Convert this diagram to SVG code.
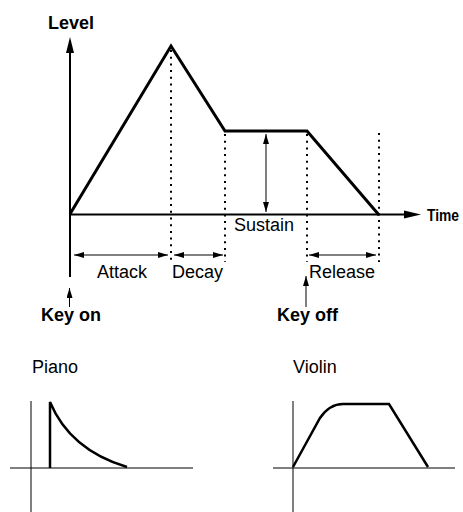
<svg xmlns="http://www.w3.org/2000/svg" width="463" height="512" viewBox="0 0 463 512">
<style>
.env{fill:none;stroke:#000;stroke-width:3;stroke-linejoin:miter}
.ax{fill:none;stroke:#000;stroke-width:2}
.thin{fill:none;stroke:#000;stroke-width:1}
.dot{fill:none;stroke:#000;stroke-width:2;stroke-dasharray:2,4.7}
.lab{font-family:"Liberation Sans",Arial,sans-serif;font-size:18px;fill:#000}
.bold{font-family:"Liberation Sans",Arial,sans-serif;font-size:18px;font-weight:bold;fill:#000}
.narrow{font-family:"Liberation Sans Narrow","Liberation Sans",Arial,sans-serif;font-size:16px;font-weight:bold;fill:#000}
</style>
<defs>
<marker id="ah" viewBox="0 0 10 6" refX="10" refY="3" markerWidth="10" markerHeight="6" markerUnits="userSpaceOnUse" orient="auto-start-reverse">
<path d="M0,0 L10,3 L0,6 Z" fill="#000"/>
</marker>
</defs>
<rect width="463" height="512" fill="#fff"/>
<g id="connectors">
<line class="ax" x1="70" y1="52" x2="70" y2="277"/>
<path d="M70,37 L74,53 L66,53 Z" fill="#000"/>
<line class="ax" x1="70" y1="214.5" x2="405" y2="214.5"/>
<path d="M421,214.5 L404,210.5 L404,218.5 Z" fill="#000"/>
<line class="dot" x1="171" y1="50" x2="171" y2="262"/>
<line class="dot" x1="225" y1="134" x2="225" y2="262"/>
<line class="dot" x1="307" y1="134" x2="307" y2="262"/>
<line class="dot" x1="379" y1="133" x2="379" y2="262"/>
<line class="thin" x1="74" y1="255" x2="168" y2="255" marker-start="url(#ah)" marker-end="url(#ah)"/>
<line class="thin" x1="174" y1="255" x2="223" y2="255" marker-start="url(#ah)" marker-end="url(#ah)"/>
<line class="thin" x1="309" y1="255" x2="376" y2="255" marker-start="url(#ah)" marker-end="url(#ah)"/>
<line class="thin" x1="266" y1="134" x2="266" y2="212" marker-start="url(#ah)" marker-end="url(#ah)"/>
<line class="thin" x1="69.5" y1="307" x2="69.5" y2="288" marker-end="url(#ah)"/>
<line class="thin" x1="306" y1="307" x2="306" y2="276" marker-end="url(#ah)"/>
</g>
<g id="envelope">
<polyline class="env" points="70,214 171,46 225,131 307,131 379,215"/>
</g>
<g id="labels">
<text class="bold" x="48" y="29" textLength="46" lengthAdjust="spacingAndGlyphs">Level</text>
<text class="narrow" x="427" y="221" textLength="32" lengthAdjust="spacingAndGlyphs">Time</text>
<text class="lab" x="234" y="231">Sustain</text>
<text class="lab" x="97" y="278">Attack</text>
<text class="lab" x="172" y="278">Decay</text>
<text class="lab" x="309" y="278">Release</text>
<text class="bold" x="41" y="321">Key on</text>
<text class="bold" x="277" y="321">Key off</text>
</g>
<g id="piano">
<text class="lab" x="32" y="373">Piano</text>
<line class="thin" x1="31" y1="401" x2="31" y2="512"/>
<line class="thin" x1="10" y1="468" x2="193" y2="468"/>
<path class="env" style="stroke-width:2.5" d="M50,468 L50,402 Q70,450 127,467"/>
</g>
<g id="violin">
<text class="lab" x="293" y="373">Violin</text>
<line class="thin" x1="293" y1="401" x2="293" y2="512"/>
<line class="thin" x1="273" y1="468" x2="455" y2="468"/>
<path class="env" style="stroke-width:2.5" d="M293,467 L320,418 Q330,403 345,404 L389,404 L428,467"/>
</g>
</svg>
